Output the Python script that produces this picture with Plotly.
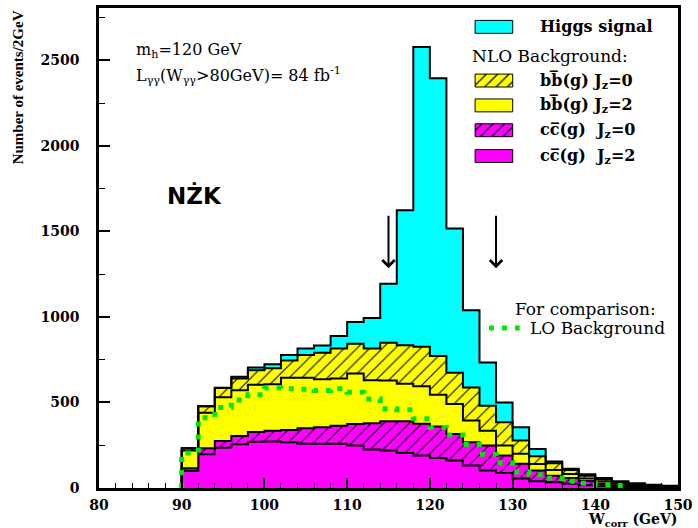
import numpy as np
import plotly.graph_objects as go

# ---------------- data (events / 2 GeV bin, bins 90-150 GeV) ----------------
bin_edges = list(range(90, 152, 2))  # 31 edges -> 30 bins

cc_jz2 = [100, 198, 236, 256, 270, 272, 268, 258, 258, 258, 248, 225, 219, 205, 190,
          175, 161, 132, 103, 87, 55, 40, 33, 25, 16, 10, 6, 4, 3, 2]
cc_jz0 = [16, 35, 39, 48, 58, 63, 71, 91, 97, 106, 126, 153, 171, 185, 186,
          185, 155, 135, 145, 103, 87, 63, 39, 33, 25, 15, 9, 6, 4, 3]
bb_jz2 = [103, 207, 255, 268, 275, 272, 306, 296, 281, 276, 295, 252, 239, 220, 219,
          185, 175, 127, 87, 58, 58, 37, 33, 24, 14, 13, 10, 7, 5, 3]
bb_jz0 = [14, 38, 54, 68, 85, 93, 101, 132, 154, 176, 174, 186, 220, 225, 230,
          227, 183, 193, 146, 136, 77, 45, 40, 23, 17, 12, 9, 7, 4, 3]
higgs = [0, 0, 2, 10, 17, 23, 31, 39, 43, 72, 128, 178, 345, 789, 1753,
         1623, 843, 452, 253, 116, 78, 43, 10, 7, 8, 8, 6, 4, 3, 2]

# LO background, bins 90-144 GeV
lo_background = [205, 410, 470, 515, 545, 585, 580, 578, 570, 580, 560, 521, 464, 457,
                 405, 353, 310, 255, 197, 148, 95, 78, 57, 39, 28, 19, 15]

x_ticks = [80, 90, 100, 110, 120, 130, 140, 150]
y_ticks = [0, 500, 1000, 1500, 2000, 2500]
arrow_positions = [115, 128]

layer_names = ["cc(g) Jz=2", "cc(g) Jz=0", "bb(g) Jz=2", "bb(g) Jz=0", "Higgs signal"]
layers = [cc_jz2, cc_jz0, bb_jz2, bb_jz0, higgs]

# ---------------- styles ----------------
MAGENTA, YELLOW, CYAN, GREEN = "#ff00ff", "#ffff00", "#00ffff", "#00e600"
layer_colors = [MAGENTA, MAGENTA, YELLOW, YELLOW, CYAN]
layer_hatched = [False, True, False, True, False]

W, H = 698, 528
L, R, T, B = 99, 684, 5, 488


def px(xp):
    return (xp - L) / (R - L)


def py(yp):
    return (B - yp) / (B - T)


SERIF = "DejaVu Serif"

fig = go.Figure()

cum = np.cumsum(np.array(layers, dtype=float), axis=0)
for k in range(len(layers)):
    top = list(cum[k])
    xs = [bin_edges[0]] + bin_edges + [bin_edges[-1]]
    ys = [0] + top + [top[-1], 0]
    kw = dict(
        x=xs, y=ys, mode="lines", line=dict(color="black", width=2, shape="hv"),
        fill="tozeroy" if k == 0 else "tonexty", fillcolor=layer_colors[k],
        name=layer_names[k], hoverinfo="skip",
    )
    if layer_hatched[k]:
        kw["fillpattern"] = dict(shape="/", bgcolor=layer_colors[k], fgcolor="black",
                                 size=9, solidity=0.12, fillmode="replace")
    fig.add_trace(go.Scatter(**kw))

# LO background dotted step line
lo_x = [bin_edges[0]] + bin_edges[:len(lo_background) + 1]
lo_y = [0] + lo_background + [lo_background[-1]]
fig.add_trace(go.Scatter(x=lo_x, y=lo_y, mode="lines",
                         line=dict(color=GREEN, width=5, shape="hv", dash="5px,8px"),
                         name="LO Background", hoverinfo="skip"))

# ---------------- legend swatches on an auxiliary axis ----------------
legend_rows_px = [24, 53, 78, 103, 128, 154]
swatch_rows = [(legend_rows_px[0], CYAN, False),
               (legend_rows_px[2], YELLOW, True),
               (legend_rows_px[3], YELLOW, False),
               (legend_rows_px[4], MAGENTA, True),
               (legend_rows_px[5], MAGENTA, False)]
for row, col, hatch in swatch_rows:
    marker = dict(color=col, line=dict(color="black", width=1))
    if hatch:
        marker["pattern"] = dict(shape="/", bgcolor=col, fgcolor="black", size=8,
                                 solidity=0.15, fillmode="replace")
    fig.add_trace(go.Bar(x=[1], y=[row], base=0, orientation="h", width=13,
                         marker=marker, xaxis="x2", yaxis="y2", hoverinfo="skip"))

sw_l, sw_r = 479, 517
pad = (sw_r - sw_l) * 0.05

annotations = []
legend_labels = [
    (legend_rows_px[0], "<b>Higgs signal</b>"),
    (legend_rows_px[2], "<b>bb\u0305(g) J<sub>z</sub>=0</b>"),
    (legend_rows_px[3], "<b>bb\u0305(g) J<sub>z</sub>=2</b>"),
    (legend_rows_px[4], "<b>cc\u0305(g)  J<sub>z</sub>=0</b>"),
    (legend_rows_px[5], "<b>cc\u0305(g)  J<sub>z</sub>=2</b>"),
]
for row, txt in legend_labels:
    annotations.append(dict(x=px(543), y=py(row), xref="paper", yref="paper", text=txt,
                            showarrow=False, xanchor="left", yanchor="middle",
                            font=dict(family=SERIF, size=16, color="black")))
annotations.append(dict(x=px(474), y=py(legend_rows_px[1]), xref="paper", yref="paper",
                        text="NLO Background:", showarrow=False, xanchor="left",
                        yanchor="middle", font=dict(family=SERIF, size=17, color="black")))

annotations += [
    dict(x=px(134), y=py(48), xref="paper", yref="paper", text="m<sub>h</sub>=120 GeV",
         showarrow=False, xanchor="left", yanchor="middle",
         font=dict(family=SERIF, size=16, color="black")),
    dict(x=px(134), y=py(73), xref="paper", yref="paper",
         text="L<sub>γγ</sub>(W<sub>γγ</sub>&gt;80GeV)= 84 fb<sup>-1</sup>",
         showarrow=False, xanchor="left", yanchor="middle",
         font=dict(family=SERIF, size=16, color="black")),
    dict(x=px(195), y=py(194), xref="paper", yref="paper", text="<b>NŻK</b>",
         showarrow=False, xanchor="center", yanchor="middle",
         font=dict(family="DejaVu Sans", size=23, color="black")),
    dict(x=px(517), y=py(308), xref="paper", yref="paper", text="For comparison:",
         showarrow=False, xanchor="left", yanchor="middle",
         font=dict(family=SERIF, size=17, color="black")),
    dict(x=px(532), y=py(327), xref="paper", yref="paper", text="LO Background",
         showarrow=False, xanchor="left", yanchor="middle",
         font=dict(family=SERIF, size=17, color="black")),
    dict(x=px(17), y=py(85), xref="paper", yref="paper", text="<b>Number of events/2GeV</b>",
         textangle=-90, showarrow=False, xanchor="center", yanchor="middle",
         font=dict(family="Liberation Serif", size=15, color="black")),
    dict(x=px(638), y=py(520), xref="paper", yref="paper",
         text="<b>W<sub>corr</sub> (GeV)</b>", showarrow=False, xanchor="center",
         yanchor="middle", font=dict(family=SERIF, size=14, color="black")),
]
for xa in arrow_positions:
    annotations.append(dict(x=xa, y=1285, ax=xa, ay=1600, xref="x", yref="y",
                            axref="x", ayref="y", text="", showarrow=True,
                            arrowhead=4, arrowsize=1.2, arrowwidth=2,
                            arrowcolor="black", standoff=0))

shapes = [dict(type="line", xref="paper", yref="paper", x0=px(493), x1=px(524),
               y0=py(327), y1=py(327), line=dict(color=GREEN, width=5, dash="5px,8px"))]

tickfont = dict(family=SERIF, size=14, color="black", weight="bold")
fig.update_layout(
    width=W, height=H, margin=dict(l=L, r=W - R, t=T, b=H - B),
    paper_bgcolor="white", plot_bgcolor="white", showlegend=False,
    annotations=annotations, shapes=shapes, barmode="overlay",
    xaxis=dict(range=[80, 150], tickvals=x_ticks, ticktext=[str(v) for v in x_ticks],
               ticks="inside", ticklen=10, tickwidth=1.5, tickcolor="black",
               minor=dict(dtick=2, tick0=80, ticks="inside", ticklen=5, tickcolor="black",
                          tickwidth=1.2),
               showline=True, linewidth=2.5, linecolor="black", mirror=True,
               showgrid=False, zeroline=False, tickfont=tickfont, ticklabelstandoff=2,
               ticklabeloverflow="allow"),
    yaxis=dict(range=[0, 2806], tickvals=y_ticks, ticktext=[str(v) for v in y_ticks],
               ticks="inside", ticklen=11, tickwidth=1.5, tickcolor="black",
               minor=dict(dtick=250, tick0=0, ticks="inside", ticklen=6, tickcolor="black",
                          tickwidth=1.2),
               showline=True, linewidth=2.5, linecolor="black", mirror=True,
               showgrid=False, zeroline=False, tickfont=tickfont, ticklabelstandoff=14),
    xaxis2=dict(domain=[px(sw_l - pad), px(sw_r + pad)], range=[-0.05, 1.05],
                anchor="y2", visible=False, fixedrange=True),
    yaxis2=dict(domain=[py(175), py(5)], range=[175, 5], anchor="x2", visible=False,
                fixedrange=True),
)

fig.write_html("out.html", config={"displayModeBar": False},
               post_script="document.body.style.margin='0';"
                           "document.body.style.overflow='hidden';")
